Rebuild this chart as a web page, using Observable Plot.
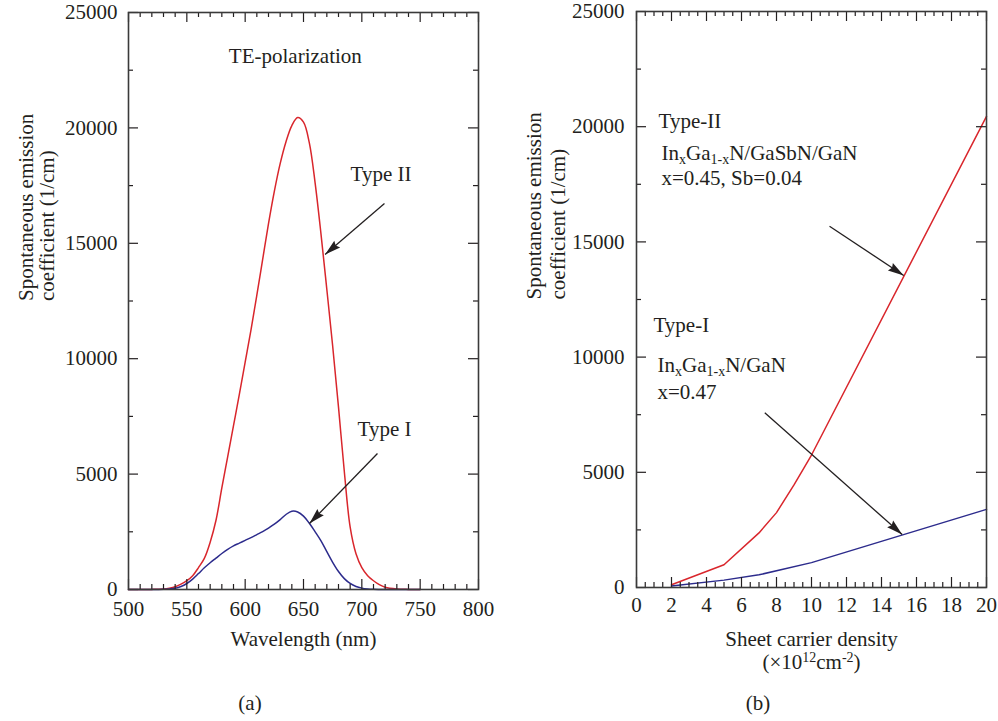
<!DOCTYPE html>
<html><head><meta charset="utf-8">
<script src="https://cdn.jsdelivr.net/npm/d3@7"></script>
<script src="https://cdn.jsdelivr.net/npm/@observablehq/plot@0.6"></script>
<style>
body{margin:0;background:#fff;}
#wrap{position:relative;width:998px;height:721px;font-family:"Liberation Serif",serif;color:#231f20;overflow:hidden;}
#pa,#pb{position:absolute;top:0;}
#pa{left:0}#pb{left:499px}
.cap{position:absolute;top:690px;width:60px;margin-left:-30px;text-align:center;font-size:21px;line-height:26px}
</style></head><body>
<div id="wrap"><div id="pa"></div><div id="pb"></div>
<div class="cap" style="left:250px">(a)</div><div class="cap" style="left:758px">(b)</div></div>
<script>
// ---------- Panel (a): spectra ----------
const wlTypeII = [500,510,520,530,535,540,545,550,555,560,565,570,575,580,585,590,595,600,605,610,615,620,625,630,635,640,645,650,655,660,665,670,675,680,685,690,695,700,705,710,715,720,730,740,750];
const spTypeII = [0,0,5,25,60,120,230,380,600,950,1350,2050,3000,4400,5750,7100,8450,9850,11250,12750,14300,15850,17250,18450,19400,20100,20450,20250,19350,17600,15400,13000,10550,7900,5100,2700,1550,950,600,380,210,100,25,5,0];
const wlTypeI = [500,520,530,535,540,545,550,555,560,565,570,575,580,585,590,595,600,605,610,615,620,625,630,635,640,645,650,655,660,665,670,675,680,685,690,695,700,705,710,720,750];
const spTypeI = [0,0,10,25,55,130,260,450,690,940,1160,1360,1560,1740,1890,2010,2130,2250,2380,2510,2660,2830,3030,3250,3390,3360,3180,2870,2500,2110,1640,1180,780,470,260,130,60,25,10,0,0];
const wlMajorTicks = [500,550,600,650,700,750,800];
const wlMinorTicks = [510,520,530,540,560,570,580,590,610,620,630,640,660,670,680,690,710,720,730,740,760,770,780,790];
const emMajorTicks = [0,5000,10000,15000,20000,25000];
const emMinorTicks = [2500,7500,12500,17500,22500];
const titleA = ["TE-polarization"];
const titleAx = [643];
const titleAy = [22830];
const labelsA = ["Type II","Type I"];
const labelsAx = [690.3,696.3];
const labelsAy = [17720,6670];
const arrowsA = {x1:[719.4,713.4], y1:[16720,5890], x2:[668.5,655.1], y2:[14510,2860]};

// ---------- Panel (b): vs sheet carrier density ----------
const nTypeII = [2,5,7,8,9,10,20];
const emTypeII = [120,990,2370,3250,4450,5750,20450];
const nTypeI = [2,5,7,10,20];
const emTypeI = [60,320,550,1080,3390];
const nMajorTicks = [0,2,4,6,8,10,12,14,16,18,20];
const nMinorTicks = [0.5,1,1.5,2.5,3,3.5,4.5,5,5.5,6.5,7,7.5,8.5,9,9.5,10.5,11,11.5,12.5,13,13.5,14.5,15,15.5,16.5,17,17.5,18.5,19,19.5];
const labelsB = ["Type-II","InxGa1-xN/GaSbN/GaN","x=0.45, Sb=0.04","Type-I","InxGa1-xN/GaN","x=0.47"];
const labelsBx = [1.26,1.43,1.43,0.97,1.2,1.2];
const labelsBy = [19965,18533,17448,11068,9332,8203];
const arrowsB = {x1:[11.03,7.33], y1:[15681,7582], x2:[15.27,15.18], y2:[13542,2300]};

const INK = "#231f20", RED = "#d9262c", BLUE = "#2c2b8c", FS = 21;
const ns = "http://www.w3.org/2000/svg";
const zipXY = (xs, ys) => xs.map((x, i) => ({x, y: ys[i]}));

function frameTicks(xMaj, xMin, yMaj, yMin, iw, ih) {
  const LM = 10, Lm = 5, st = {stroke: INK, strokeWidth: 1.2};
  return [
    Plot.tickX(xMaj, {x: d => d, insetTop: ih - LM, ...st}),
    Plot.tickX(xMaj, {x: d => d, insetBottom: ih - LM, ...st}),
    Plot.tickX(xMin, {x: d => d, insetTop: ih - Lm, ...st}),
    Plot.tickX(xMin, {x: d => d, insetBottom: ih - Lm, ...st}),
    Plot.tickY(yMaj, {y: d => d, insetRight: iw - LM, ...st}),
    Plot.tickY(yMaj, {y: d => d, insetLeft: iw - LM, ...st}),
    Plot.tickY(yMin, {y: d => d, insetRight: iw - Lm, ...st}),
    Plot.tickY(yMin, {y: d => d, insetLeft: iw - Lm, ...st})
  ];
}

function arrowLinks(a) {
  const d = a.x1.map((_, i) => i);
  return Plot.link(d, {x1: i => a.x1[i], y1: i => a.y1[i], x2: i => a.x2[i], y2: i => a.y2[i], stroke: INK, strokeWidth: 1.3});
}

function addArrowheads(svg, id) {
  const defs = document.createElementNS(ns, "defs");
  const m = document.createElementNS(ns, "marker");
  m.setAttribute("id", id);
  m.setAttribute("viewBox", "-17 -5 18 10");
  m.setAttribute("markerUnits", "userSpaceOnUse");
  m.setAttribute("markerWidth", 18);
  m.setAttribute("markerHeight", 10);
  m.setAttribute("refX", 0);
  m.setAttribute("refY", 0);
  m.setAttribute("orient", "auto");
  const p = document.createElementNS(ns, "path");
  p.setAttribute("d", "M0,0L-16,-4.5L-14,0L-16,4.5Z");
  p.setAttribute("fill", INK);
  m.appendChild(p); defs.appendChild(m);
  svg.insertBefore(defs, svg.firstChild);
  svg.querySelectorAll('g[aria-label="link"] path').forEach(e => e.setAttribute("marker-end", `url(#${id})`));
}

function richText(svg, plain, parts) {
  svg.querySelectorAll("text").forEach(t => {
    if (t.textContent !== plain) return;
    while (t.firstChild) t.removeChild(t.firstChild);
    let shift = 0;
    for (const [s, kind] of parts) {
      const ts = document.createElementNS(ns, "tspan");
      const target = kind === "sub" ? 4 : kind === "sup" ? -7 : 0;
      if (target - shift !== 0) ts.setAttribute("dy", target - shift);
      shift = target;
      if (kind) ts.setAttribute("font-size", 14);
      ts.textContent = s;
      t.appendChild(ts);
    }
  });
}

const style = {fontFamily: "Liberation Serif", fontSize: "21px", color: INK, background: "transparent", overflow: "visible"};

// ---- (a)
const W = 499, H = 680;
const mA = {l: 128, r: 21, t: 12, b: 91};
const iwA = W - mA.l - mA.r, ihA = H - mA.t - mA.b;
const plotA = Plot.plot({
  width: W, height: H, marginLeft: mA.l, marginRight: mA.r, marginTop: mA.t, marginBottom: mA.b,
  style,
  x: {domain: [500, 800]},
  y: {domain: [0, 25000]},
  marks: [
    Plot.line(zipXY(wlTypeII, spTypeII), {x: "x", y: "y", stroke: RED, strokeWidth: 1.5, curve: "catmull-rom"}),
    Plot.line(zipXY(wlTypeI, spTypeI), {x: "x", y: "y", stroke: BLUE, strokeWidth: 1.5, curve: "catmull-rom"}),
    ...frameTicks(wlMajorTicks, wlMinorTicks, emMajorTicks, emMinorTicks, iwA, ihA),
    Plot.frame({stroke: "#3a3a3a", strokeWidth: 1.6}),
    Plot.axisX({ticks: wlMajorTicks, tickSize: 0, tickPadding: 12, label: null, tickFormat: d => String(d), fontSize: FS}),
    Plot.axisY({ticks: emMajorTicks, tickSize: 0, tickPadding: 11, label: null, tickFormat: d => String(d), fontSize: FS}),
    arrowLinks(arrowsA),
    Plot.text(titleA, {x: (d, i) => titleAx[i], y: (d, i) => titleAy[i], text: d => d, textAnchor: "middle", lineAnchor: "bottom", fontSize: FS}),
    Plot.text(labelsA, {x: (d, i) => labelsAx[i], y: (d, i) => labelsAy[i], text: d => d, textAnchor: "start", lineAnchor: "bottom", fontSize: FS}),
    Plot.text(["Wavelength (nm)"], {frameAnchor: "bottom", dy: 56, lineAnchor: "bottom", fontSize: FS}),
    Plot.text(["Spontaneous emission"], {frameAnchor: "left", rotate: -90, dx: -96, lineAnchor: "bottom", fontSize: FS}),
    Plot.text(["coefficient (1/cm)"], {frameAnchor: "left", rotate: -90, dx: -75, lineAnchor: "bottom", fontSize: FS})
  ]
});
addArrowheads(plotA, "headA");
document.getElementById("pa").appendChild(plotA);

// ---- (b)
const mB = {l: 137, r: 12, t: 11, b: 93};
const iwB = W - mB.l - mB.r, ihB = H - mB.t - mB.b;
const plotB = Plot.plot({
  width: W, height: H, marginLeft: mB.l, marginRight: mB.r, marginTop: mB.t, marginBottom: mB.b,
  style,
  x: {domain: [0, 20]},
  y: {domain: [0, 25000]},
  marks: [
    Plot.line(zipXY(nTypeII, emTypeII), {x: "x", y: "y", stroke: RED, strokeWidth: 1.5}),
    Plot.line(zipXY(nTypeI, emTypeI), {x: "x", y: "y", stroke: BLUE, strokeWidth: 1.5}),
    ...frameTicks(nMajorTicks, nMinorTicks, emMajorTicks, emMinorTicks, iwB, ihB),
    Plot.frame({stroke: "#3a3a3a", strokeWidth: 1.6}),
    Plot.axisX({ticks: nMajorTicks, tickSize: 0, tickPadding: 10, label: null, tickFormat: d => String(d), fontSize: FS}),
    Plot.axisY({ticks: emMajorTicks, tickSize: 0, tickPadding: 12, label: null, tickFormat: d => String(d), fontSize: FS}),
    arrowLinks(arrowsB),
    Plot.text(labelsB, {x: (d, i) => labelsBx[i], y: (d, i) => labelsBy[i], text: d => d, textAnchor: "start", lineAnchor: "bottom", fontSize: FS}),
    Plot.text(["Sheet carrier density"], {frameAnchor: "bottom", dy: 58, lineAnchor: "bottom", fontSize: FS}),
    Plot.text(["(×1012cm-2)"], {frameAnchor: "bottom", dy: 81, lineAnchor: "bottom", fontSize: FS}),
    Plot.text(["Spontaneous emission"], {frameAnchor: "left", rotate: -90, dx: -96, lineAnchor: "bottom", fontSize: FS}),
    Plot.text(["coefficient (1/cm)"], {frameAnchor: "left", rotate: -90, dx: -72, lineAnchor: "bottom", fontSize: FS})
  ]
});
addArrowheads(plotB, "headB");
richText(plotB, "InxGa1-xN/GaSbN/GaN", [["In"],["x","sub"],["Ga"],["1-x","sub"],["N/GaSbN/GaN"]]);
richText(plotB, "InxGa1-xN/GaN", [["In"],["x","sub"],["Ga"],["1-x","sub"],["N/GaN"]]);
richText(plotB, "(×1012cm-2)", [["(×10"],["12","sup"],["cm"],["-2","sup"],[")"]]);
document.getElementById("pb").appendChild(plotB);
</script>
</body></html>
